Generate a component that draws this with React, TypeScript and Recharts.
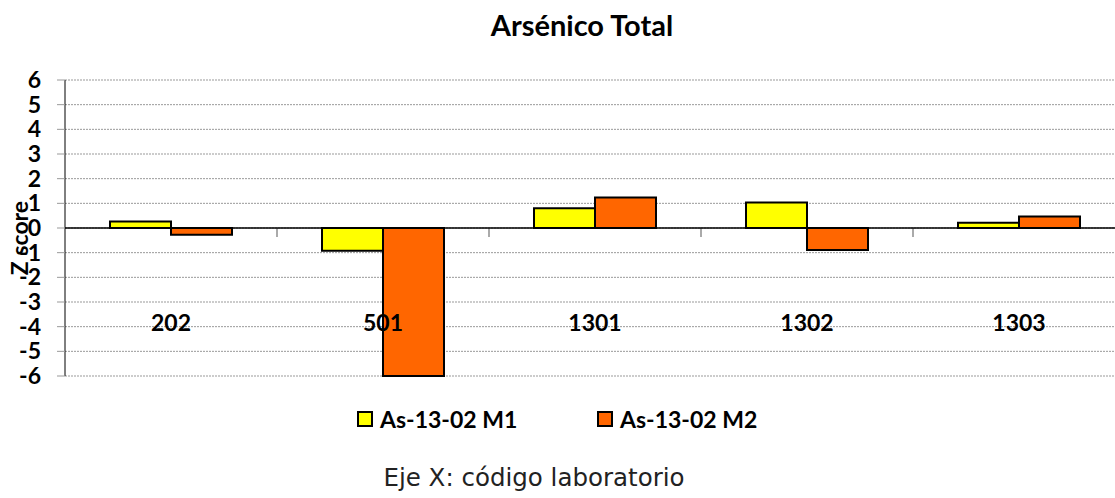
import {
    BarChart,
    Bar,
    XAxis,
    YAxis,
    CartesianGrid,
    ReferenceLine,
    Rectangle,
} from "recharts";

// laboratory codes on the x axis
const labs = ["202", "501", "1301", "1302", "1303"];
// z scores per sample
const m1Scores = [0.26, -0.92, 0.8, 1.03, 0.21];
const m2Scores = [-0.27, -6.0, 1.24, -0.89, 0.47];
const yTicks = [-6, -5, -4, -3, -2, -1, 0, 1, 2, 3, 4, 5, 6];

const seriesNames = ["As-13-02 M1", "As-13-02 M2"];
const COLORS = ["#FFFF00", "#FF6600"];

const FONT = "Lato, 'Open Sans', sans-serif";
const CAT_GAP = 45;

const data = labs.map((lab, i) => ({
    lab,
    m1: m1Scores[i],
    m2: m2Scores[i],
}));

const CategoryTick = (props: any) => {
    const { x, y, payload } = props;
    return (
        <text x={x} y={y} dy={-45} textAnchor="middle" fontFamily={FONT} fontWeight="bold" fontSize={23} fill="#000">
            {payload.value}
        </text>
    );
};

// second series bar, plus the small grey tick on the zero line at the end of the category band
const M2Bar = (props: any) => {
    const { x, y, width, height, value, fill } = props;
    const top = Math.min(y, y + height);
    const bottom = Math.max(y, y + height);
    const v = Array.isArray(value) ? value[1] : value;
    const zeroY = v >= 0 ? bottom : top;
    const tickX = x + width + CAT_GAP;
    return (
        <g>
            <line x1={tickX} x2={tickX} y1={zeroY} y2={zeroY + 9} stroke="#aaa" strokeWidth={2} />
            <Rectangle x={x} y={top} width={width} height={bottom - top} fill={fill} stroke="#000" strokeWidth={2} />
        </g>
    );
};

const ZLabel = (props: any) => {
    const { viewBox } = props;
    const cx = 19;
    const cy = viewBox.y + viewBox.height / 2 + 10;
    return (
        <text
            x={cx}
            y={cy}
            transform={`rotate(-90 ${cx} ${cy})`}
            textAnchor="middle"
            dominantBaseline="central"
            fontFamily={FONT}
            fontWeight="bold"
            fontSize={23}
            fill="#000"
        >
            Z score
        </text>
    );
};

const App = () => {
    return (
        <div style={{ position: "absolute", left: 0, top: 0, width: 1115, height: 498, overflow: "hidden", background: "#fff" }}>
            <div
                style={{
                    position: "absolute",
                    left: 0,
                    width: 1164,
                    top: 7,
                    textAlign: "center",
                    fontFamily: FONT,
                    fontWeight: "bold",
                    fontSize: 29,
                }}
            >
                Arsénico Total
            </div>
            <BarChart
                width={1130}
                height={498}
                data={data}
                margin={{ top: 80, right: 5, left: 0, bottom: 92 }}
                barGap={0}
                barCategoryGap={CAT_GAP}
            >
                <CartesianGrid vertical={false} stroke="#999" strokeDasharray="2 1" />
                <XAxis
                    dataKey="lab"
                    height={30}
                    axisLine={false}
                    tickLine={false}
                    tickSize={0}
                    tickMargin={0}
                    interval={0}
                    tick={<CategoryTick />}
                />
                <YAxis
                    width={65}
                    domain={[-6, 6]}
                    ticks={yTicks}
                    interval={0}
                    tickSize={8}
                    tickMargin={16}
                    tickLine={{ stroke: "#999" }}
                    axisLine={{ stroke: "#000" }}
                    tick={{ fontFamily: FONT, fontWeight: "bold", fontSize: 23, fill: "#000" }}
                    label={<ZLabel />}
                />
                <ReferenceLine y={0} stroke="#000" strokeWidth={1.5} />
                <Bar dataKey="m1" name={seriesNames[0]} fill={COLORS[0]} stroke="#000" strokeWidth={2} isAnimationActive={false} />
                <Bar dataKey="m2" name={seriesNames[1]} fill={COLORS[1]} stroke="#000" strokeWidth={2} isAnimationActive={false} shape={M2Bar} />
            </BarChart>
            {seriesNames.map((name, i) => (
                <div
                    key={name}
                    style={{
                        position: "absolute",
                        left: 357 + i * 240,
                        top: 405,
                        display: "flex",
                        alignItems: "center",
                        fontFamily: FONT,
                        fontWeight: "bold",
                        fontSize: 23,
                    }}
                >
                    <span
                        style={{
                            display: "inline-block",
                            width: 12,
                            height: 12,
                            background: COLORS[i],
                            border: "2px solid #000",
                            marginRight: 7,
                        }}
                    />
                    {name}
                </div>
            ))}
            <div
                style={{
                    position: "absolute",
                    left: 0,
                    width: 1068,
                    top: 463,
                    textAlign: "center",
                    fontFamily: "'DejaVu Sans', sans-serif",
                    fontSize: 24.5,
                    color: "#222",
                }}
            >
                Eje X: código laboratorio
            </div>
        </div>
    );
};

export default App;
